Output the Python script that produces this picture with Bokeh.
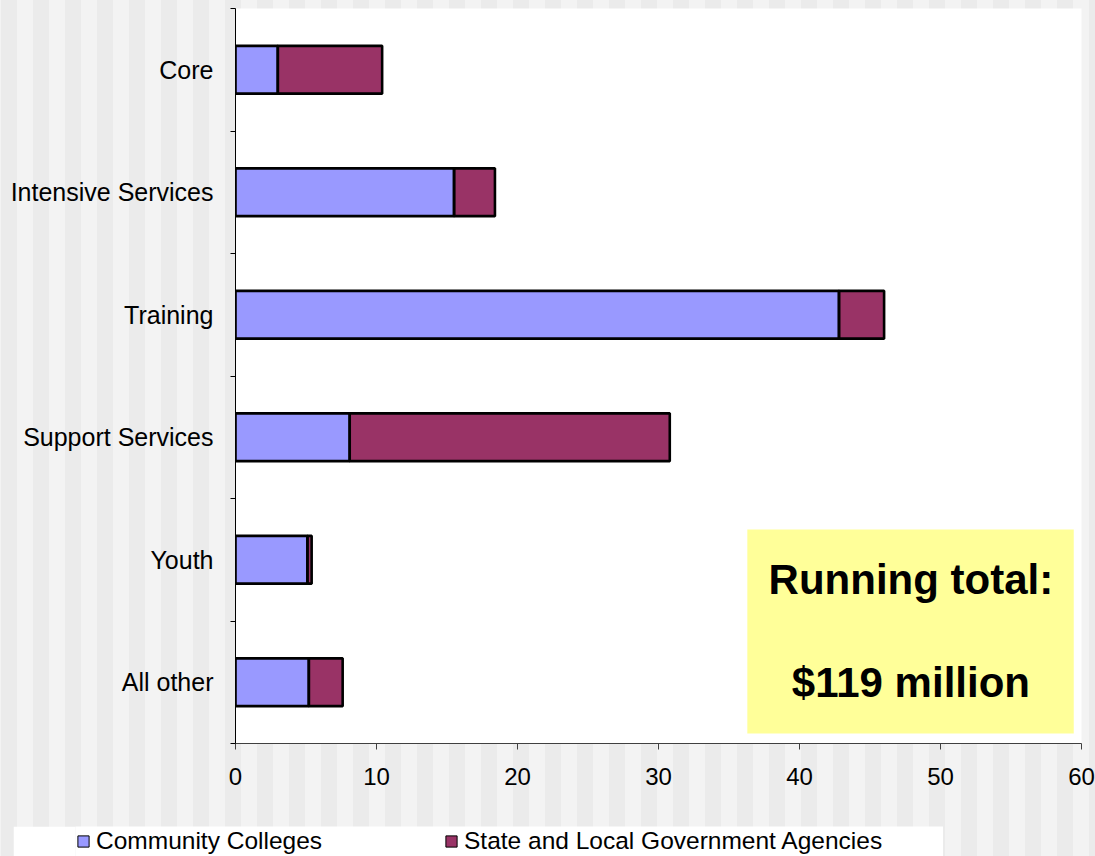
from bokeh.plotting import figure
from bokeh.layouts import column, row
from bokeh.models import (Range1d, FixedTicker, Legend, LegendItem,
                          BoxAnnotation, Label, ColumnDataSource)
from bokeh.embed import file_html
from bokeh.resources import INLINE

# Spending by service category, $ millions
categories = ["Core", "Intensive Services", "Training",
              "Support Services", "Youth", "All other"]
community_colleges = [3.0, 15.5, 42.8, 8.1, 5.1, 5.2]
state_local_agencies = [7.4, 2.9, 3.2, 22.7, 0.3, 2.4]
x_ticks = [0, 10, 20, 30, 40, 50, 60]
series_names = ["Community Colleges", "State and Local Government Agencies"]
callout_lines = ["Running total:", "$119 million"]

FONT = "Liberation Sans"
CC_COLOR = "#9999FF"
SL_COLOR = "#993366"
BAR_HEIGHT = 0.39

n = len(categories)
centers = [i + 0.5 for i in range(n)]
cc_end = list(community_colleges)
sl_end = [a + b for a, b in zip(community_colleges, state_local_agencies)]

source = ColumnDataSource(dict(
    y=centers,
    cat=categories,
    cc_left=[0.0] * n,
    cc_right=cc_end,
    sl_left=cc_end,
    sl_right=sl_end,
))

p = figure(width=1095, height=826, output_backend="svg", toolbar_location=None,
           x_range=Range1d(0, 60), y_range=Range1d(n, 0),
           min_border_left=235, min_border_right=14,
           min_border_top=8, min_border_bottom=83)
p.border_fill_color = None
p.background_fill_color = "white"
p.outline_line_color = None
p.grid.grid_line_color = None

# filled segments
p.hbar(y="y", left="cc_left", right="cc_right", height=BAR_HEIGHT,
       source=source, fill_color=CC_COLOR, line_color="black", line_width=1)
p.hbar(y="y", left="sl_left", right="sl_right", height=BAR_HEIGHT,
       source=source, fill_color=SL_COLOR, line_color="black", line_width=1)
# heavy outlines on top
for left, right in (("cc_left", "cc_right"), ("sl_left", "sl_right")):
    p.hbar(y="y", left=left, right=right, height=BAR_HEIGHT, source=source,
           fill_color=None, line_color="black", line_width=2.6)

# x axis
xa = p.xaxis[0]
xa.ticker = FixedTicker(ticks=x_ticks)
xa.axis_line_color = "#404040"
xa.major_tick_line_color = "#404040"
xa.major_tick_in = 0
xa.major_tick_out = 6
xa.minor_tick_line_color = None
xa.major_label_text_font = FONT
xa.major_label_text_font_size = "24px"
xa.major_label_text_color = "black"
xa.major_label_standoff = 18

# y axis: labels at category centres, ticks on category boundaries
ya = p.yaxis[0]
ya.ticker = FixedTicker(ticks=centers, minor_ticks=list(range(n + 1)))
ya.major_label_overrides = {c: name for c, name in zip(centers, categories)}
ya.axis_line_color = "black"
ya.major_tick_line_color = None
ya.major_tick_in = 0
ya.major_tick_out = 0
ya.minor_tick_line_color = "black"
ya.minor_tick_in = 0
ya.minor_tick_out = 5
ya.major_label_text_font = FONT
ya.major_label_text_font_size = "25px"
ya.major_label_text_color = "black"
ya.major_label_standoff = 17

# running-total callout
p.add_layout(BoxAnnotation(left=36.3, right=59.45, top=4.253, bottom=5.918,
                           fill_color="#FFFF99", fill_alpha=1.0,
                           line_color=None))
for text, yy in zip(callout_lines, (4.66, 5.50)):
    p.add_layout(Label(x=47.9, y=yy, text=text, text_align="center",
                       text_baseline="middle", text_font=FONT,
                       text_font_style="bold", text_font_size="42px",
                       text_color="black"))

# legend strip underneath the chart
leg = figure(width=930, height=30, output_backend="svg", toolbar_location=None,
             x_range=Range1d(0, 1), y_range=Range1d(0, 1),
             x_axis_location=None, y_axis_location=None,
             min_border_left=62, min_border_right=0,
             min_border_top=0, min_border_bottom=0)
leg.margin = (0, 0, 0, 13)
leg.border_fill_color = "white"
leg.background_fill_color = "white"
leg.outline_line_color = None
leg.grid.grid_line_color = None
key_cc = leg.hbar(y="y", left="cc_left", right="cc_right", height=BAR_HEIGHT,
                  source=source, fill_color=CC_COLOR, line_color="black",
                  line_width=1, visible=False)
key_sl = leg.hbar(y="y", left="sl_left", right="sl_right", height=BAR_HEIGHT,
                  source=source, fill_color=SL_COLOR, line_color="black",
                  line_width=1, visible=False)
legend = Legend(
    items=[LegendItem(label=series_names[0], renderers=[key_cc]),
           LegendItem(label=series_names[1], renderers=[key_sl])],
    orientation="horizontal", location="top_left",
    padding=0, margin=1, spacing=122,
    glyph_width=14, glyph_height=14, label_standoff=6,
    label_text_font=FONT, label_text_font_size="24.5px",
    label_text_baseline="middle", label_text_color="black",
    background_fill_alpha=0, border_line_color=None,
    inactive_fill_alpha=0, click_policy="none",
)
leg.add_layout(legend, "center")

page = column(p, row(leg), spacing=0)
# striped page backdrop
page.styles = {
    "background": ("linear-gradient(90deg, #ebebeb 0px 16px, #f3f3f3 16px 32px) "
                   "1px 0px / 32px 100% repeat-x"),
}

open("out.html", "w").write(file_html(page, INLINE))
